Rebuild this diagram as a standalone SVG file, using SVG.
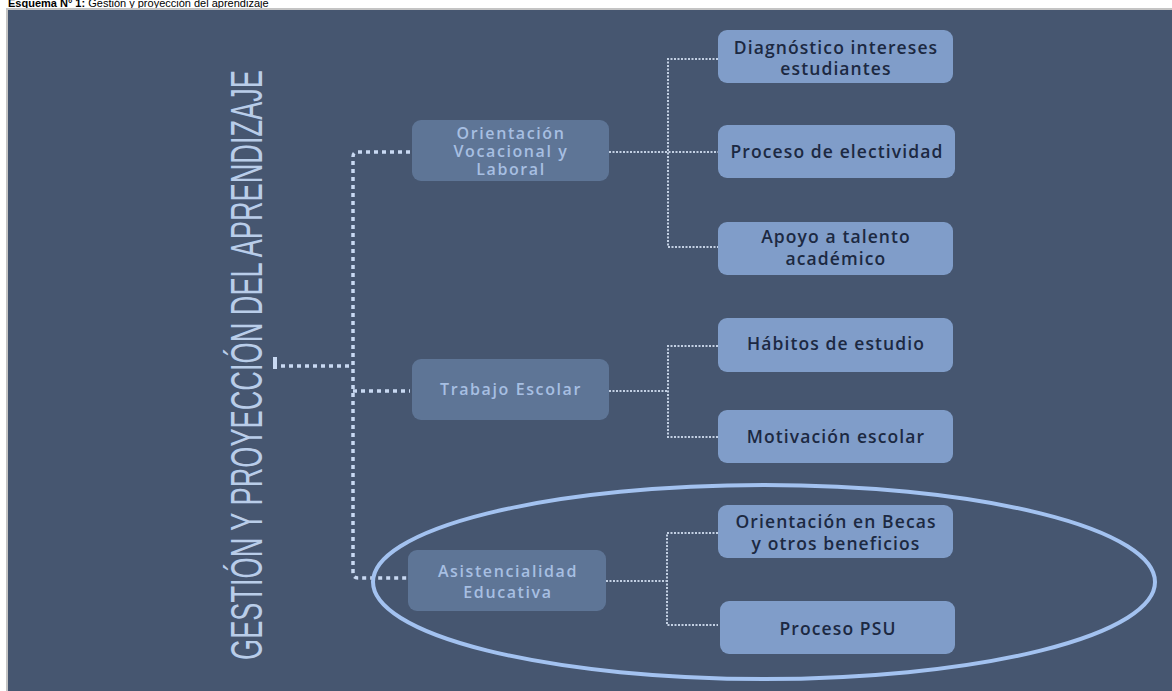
<svg xmlns="http://www.w3.org/2000/svg" width="1172" height="691" viewBox="0 0 1172 691">
<defs>
<style>
.mid{fill:#5e7596}
.right{fill:#809dc9}
.mt{font-family:"Open Sans","Liberation Sans",sans-serif;font-size:16px;font-weight:600;letter-spacing:1.6px;fill:#a7bfe2;text-anchor:middle}
.rt{font-family:"Open Sans","Liberation Sans",sans-serif;font-size:17.5px;font-weight:600;letter-spacing:1.1px;fill:#1c2942;text-anchor:middle}
.thick{fill:none;stroke:#c9d9f2;stroke-width:3.5;stroke-dasharray:4 4}
.thin{fill:none;stroke:#c3d0e3;stroke-width:2;stroke-dasharray:2 1.5}
</style>
</defs>
<rect x="0" y="0" width="1172" height="691" fill="#ffffff"/>
<text x="8" y="7" font-family="Liberation Sans, Arial, sans-serif" font-size="11" fill="#000"><tspan font-weight="bold">Esquema N° 1:</tspan> Gestión y proyección del aprendizaje</text>
<rect x="6" y="8" width="1166" height="683" fill="#c4c4c4"/>
<rect x="8" y="10" width="1164" height="681" fill="#465670"/>

<text transform="translate(262,660) rotate(-90)" x="0" y="0" font-family="Liberation Sans, Arial, sans-serif" font-size="44" fill="#b9cde9" textLength="590" lengthAdjust="spacingAndGlyphs">GESTIÓN Y PROYECCIÓN DEL APRENDIZAJE</text>

<g id="connectors">
<rect x="273" y="357" width="4" height="12" fill="#c9d9f2"/>
<path class="thick" d="M281 366 H352"/>
<path class="thick" d="M410 152 H358 Q353 152 353 157 V573 Q353 578 358 578 H408"/>
<path class="thick" d="M353 391 H410"/>
<path class="thin" d="M609 152 H718"/>
<path class="thin" d="M718 59 H668 V247 H718"/>
<path class="thin" d="M609 391 H668"/>
<path class="thin" d="M718 346 H668 V437 H718"/>
<path class="thin" d="M606 581 H667"/>
<path class="thin" d="M718 533 H667 V625 H718"/>
</g>

<g id="n-orientacion">
<rect class="mid" x="412" y="120" width="197" height="61" rx="9"/>
<text class="mt" x="511" y="139">Orientación</text>
<text class="mt" x="511" y="157">Vocacional y</text>
<text class="mt" x="511" y="175">Laboral</text>
</g>
<g id="n-trabajo">
<rect class="mid" x="412" y="359" width="197" height="61" rx="9"/>
<text class="mt" x="511" y="395">Trabajo Escolar</text>
</g>
<g id="n-asistencialidad">
<rect class="mid" x="408" y="550" width="198" height="61" rx="9"/>
<text class="mt" x="508" y="577">Asistencialidad</text>
<text class="mt" x="508" y="598">Educativa</text>
</g>

<g id="n-diagnostico">
<rect class="right" x="718" y="30" width="235" height="53" rx="9"/>
<text class="rt" x="836" y="54">Diagnóstico intereses</text>
<text class="rt" x="836" y="75">estudiantes</text>
</g>
<g id="n-electividad">
<rect class="right" x="718" y="125" width="237" height="53" rx="9"/>
<text class="rt" x="837" y="158">Proceso de electividad</text>
</g>
<g id="n-apoyo">
<rect class="right" x="718" y="222" width="235" height="53" rx="9"/>
<text class="rt" x="836" y="243">Apoyo a talento</text>
<text class="rt" x="836" y="265">académico</text>
</g>
<g id="n-habitos">
<rect class="right" x="718" y="318" width="235" height="54" rx="9"/>
<text class="rt" x="836" y="350">Hábitos de estudio</text>
</g>
<g id="n-motivacion">
<rect class="right" x="718" y="410" width="235" height="53" rx="9"/>
<text class="rt" x="836" y="443">Motivación escolar</text>
</g>
<g id="n-becas">
<rect class="right" x="718" y="505" width="235" height="53" rx="9"/>
<text class="rt" x="836" y="528">Orientación en Becas</text>
<text class="rt" x="836" y="550">y otros beneficios</text>
</g>
<g id="n-psu">
<rect class="right" x="720" y="601" width="235" height="53" rx="9"/>
<text class="rt" x="838" y="635">Proceso PSU</text>
</g>

<g id="highlight">
<ellipse cx="764" cy="582" rx="391" ry="97" fill="none" stroke="#a3c2f0" stroke-width="4"/>
</g>
</svg>
